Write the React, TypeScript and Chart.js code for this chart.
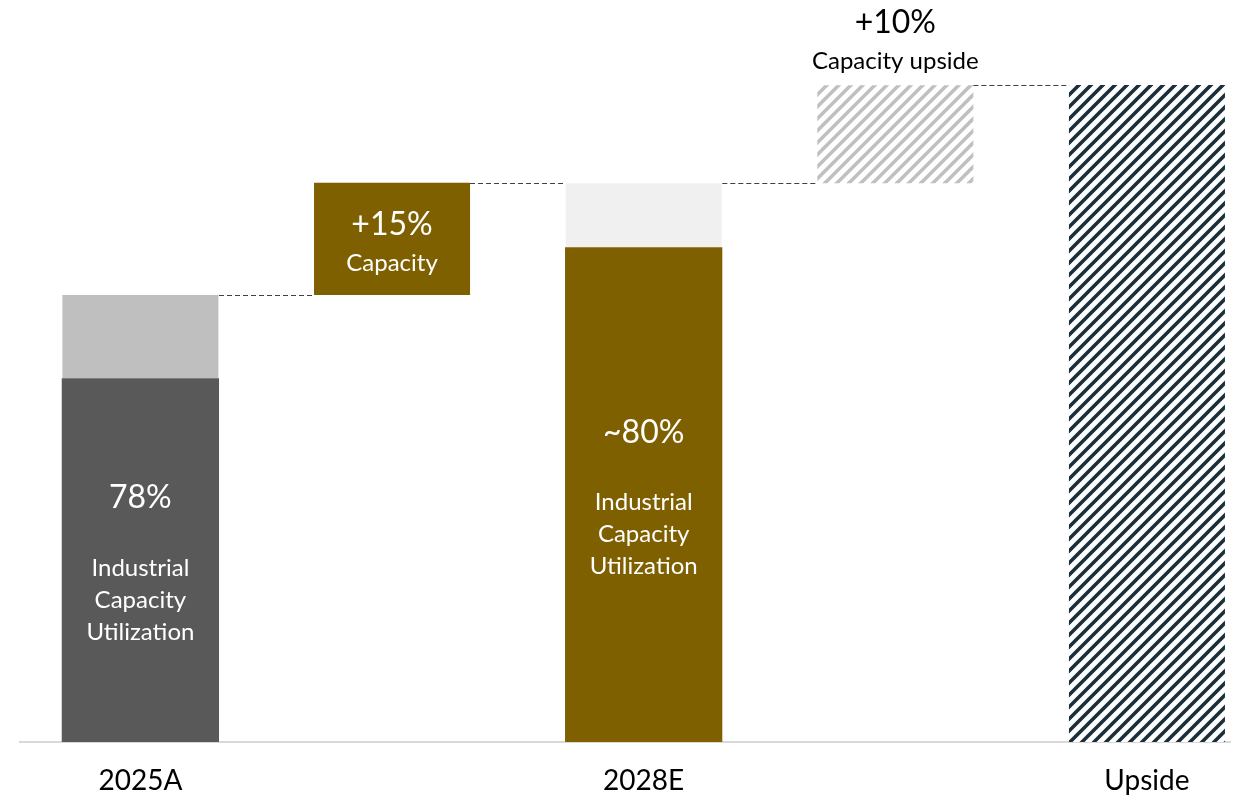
import React, { useEffect, useRef } from 'react';
import { Chart, registerables } from 'chart.js';

Chart.register(...registerables);

// ---- data ----
const CATEGORIES = ['2025A', '', '2028E', '', 'Upside'];
const UTILIZED = [81.4, null, 110.7, null, null];
const SPARE = [18.6, null, 14.3, null, null];
const STEP = [null, 25.1, null, 21.9, null];
const UPSIDE_TOTAL = [null, null, null, null, 147];
const VALUE_LABELS = ['78%', '+15%', '~80%', '+10%', ''];
const CAPTION_LABELS = [
  ['Industrial', 'Capacity', 'Utilization'],
  ['Capacity'],
  ['Industrial', 'Capacity', 'Utilization'],
  ['Capacity upside'],
  [],
];

// ---- style config (not data) ----
const FONT = 'Lato';
const UTIL_COLORS: Record<number, string> = { 0: '#595959', 2: '#7f6000' };
const SPARE_COLORS: Record<number, string> = { 0: '#bfbfbf', 2: '#f0f0f0' };
const LABEL_MODE = ['inside', 'inside', 'inside', 'above', 'none'];

// running totals (capacity level after each column)
const TOTALS: number[] = [];
{
  let running = 0;
  CATEGORIES.forEach((_, i) => {
    if (UTILIZED[i] != null) running = (UTILIZED[i] as number) + (SPARE[i] as number);
    else if (STEP[i] != null) running = running + (STEP[i] as number);
    else if (UPSIDE_TOTAL[i] != null) running = UPSIDE_TOTAL[i] as number;
    TOTALS.push(running);
  });
}

function makeHatch(color: string, bg: string) {
  const s = 12;
  const c = document.createElement('canvas');
  c.width = s;
  c.height = s;
  const g = c.getContext('2d')!;
  g.fillStyle = bg;
  g.fillRect(0, 0, s, s);
  g.strokeStyle = color;
  g.lineWidth = 3.6;
  g.beginPath();
  g.moveTo(-s, s);
  g.lineTo(s, -s);
  g.moveTo(-s, 2 * s);
  g.lineTo(2 * s, -s);
  g.moveTo(0, 2 * s);
  g.lineTo(2 * s, 0);
  g.stroke();
  return g.createPattern(c, 'repeat')!;
}

const annotatePlugin = {
  id: 'annotate',
  afterDatasetsDraw(chart: any) {
    const ctx = chart.ctx as CanvasRenderingContext2D;
    const yScale = chart.scales.y;
    const cats: Record<number, { left: number; right: number; top: number; cx: number; util?: any; step?: any }> = {};
    chart.data.datasets.forEach((ds: any, di: number) => {
      const meta = chart.getDatasetMeta(di);
      meta.data.forEach((el: any, j: number) => {
        const cat = ds.data[j].x;
        const top = Math.min(el.y, el.base);
        const left = el.x - el.width / 2;
        const right = el.x + el.width / 2;
        const c = cats[cat] || (cats[cat] = { left, right, top, cx: el.x });
        c.left = Math.min(c.left, left);
        c.right = Math.max(c.right, right);
        c.top = Math.min(c.top, top);
        if (ds.role === 'util') c.util = el;
        if (ds.role === 'step') c.step = el;
      });
    });

    ctx.save();
    // dashed connectors
    ctx.strokeStyle = '#404040';
    ctx.lineWidth = 1;
    ctx.setLineDash([5, 3]);
    for (let i = 0; i < CATEGORIES.length - 1; i++) {
      const a = cats[i];
      const b = cats[i + 1];
      if (!a || !b) continue;
      const yp = Math.round(yScale.getPixelForValue(TOTALS[i])) + 0.5;
      ctx.beginPath();
      ctx.moveTo(a.right, yp);
      ctx.lineTo(b.left, yp);
      ctx.stroke();
    }
    ctx.setLineDash([]);

    // labels
    ctx.textAlign = 'center';
    ctx.textBaseline = 'middle';
    CATEGORIES.forEach((_, i) => {
      const c = cats[i];
      if (!c) return;
      const mode = LABEL_MODE[i];
      if (mode === 'none') return;
      const el = c.util || c.step;
      if (!el) return;
      const top = Math.min(el.y, el.base);
      const bottom = Math.max(el.y, el.base);
      const mid = (top + bottom) / 2;
      if (mode === 'inside' && c.util) {
        ctx.fillStyle = '#ffffff';
        ctx.font = `32px ${FONT}`;
        ctx.fillText(VALUE_LABELS[i], el.x, mid - 62);
        ctx.font = `24px ${FONT}`;
        CAPTION_LABELS[i].forEach((t, k) => ctx.fillText(t, el.x, mid + 8 + k * 32));
      } else if (mode === 'inside') {
        ctx.fillStyle = '#ffffff';
        ctx.font = `32px ${FONT}`;
        ctx.fillText(VALUE_LABELS[i], el.x, mid - 14);
        ctx.font = `24px ${FONT}`;
        CAPTION_LABELS[i].forEach((t, k) => ctx.fillText(t, el.x, mid + 24 + k * 30));
      } else if (mode === 'above') {
        ctx.fillStyle = '#000000';
        ctx.font = `32px ${FONT}`;
        ctx.fillText(VALUE_LABELS[i], el.x, top - 63);
        ctx.font = `24px ${FONT}`;
        CAPTION_LABELS[i].forEach((t, k) => ctx.fillText(t, el.x, top - 24 + k * 30));
      }
    });
    ctx.restore();
  },
};

export default function App() {
  const canvasRef = useRef<HTMLCanvasElement | null>(null);

  useEffect(() => {
    document.body.style.margin = '0';
    const canvas = canvasRef.current;
    if (!canvas) return;

    const idx = CATEGORIES.map((_, i) => i);
    const utilData = idx.filter((i) => UTILIZED[i] != null).map((i) => ({ x: i, y: [0, UTILIZED[i] as number] }));
    const spareData = idx
      .filter((i) => SPARE[i] != null)
      .map((i) => ({ x: i, y: [UTILIZED[i] as number, (UTILIZED[i] as number) + (SPARE[i] as number)] }));
    const stepData = idx
      .filter((i) => STEP[i] != null)
      .map((i) => ({ x: i, y: [TOTALS[i] - (STEP[i] as number), TOTALS[i]] }));
    const upsideData = idx.filter((i) => UPSIDE_TOTAL[i] != null).map((i) => ({ x: i, y: [0, UPSIDE_TOTAL[i] as number] }));

    const hatchLight = makeHatch('#c0c0c0', '#ffffff');
    const hatchDark = makeHatch('#1b2f3a', '#ffffff');

    const chart = new Chart(canvas, {
      type: 'bar',
      data: {
        datasets: [
          {
            label: 'Utilization',
            role: 'util',
            data: utilData,
            backgroundColor: (c: any) => UTIL_COLORS[c.raw?.x] || '#595959',
            grouped: false,
            barPercentage: 0.625,
            categoryPercentage: 1,
          } as any,
          {
            label: 'Spare capacity',
            role: 'spare',
            data: spareData,
            backgroundColor: (c: any) => SPARE_COLORS[c.raw?.x] || '#bfbfbf',
            grouped: false,
            barPercentage: 0.62,
            categoryPercentage: 1,
          } as any,
          {
            label: 'Capacity step',
            role: 'step',
            data: stepData,
            backgroundColor: (c: any) => (c.raw?.x === 1 ? '#7f6000' : hatchLight),
            grouped: false,
            barPercentage: 0.62,
            categoryPercentage: 1,
          } as any,
          {
            label: 'Upside',
            role: 'upside',
            data: upsideData,
            backgroundColor: hatchDark,
            grouped: false,
            barPercentage: 0.62,
            categoryPercentage: 1,
          } as any,
        ],
      },
      options: {
        responsive: false,
        animation: false,
        layout: { padding: { left: 20, right: 7, top: 0, bottom: 0 } },
        plugins: { legend: { display: false }, tooltip: { enabled: false } },
        scales: {
          x: {
            type: 'linear',
            min: -0.4784,
            max: 4.33,
            offset: false,
            grid: { display: false, drawTicks: false },
            border: { display: true, color: '#d9d9d9', width: 2 },
            afterBuildTicks: (axis: any) => {
              axis.ticks = CATEGORIES.map((_, i) => ({ value: i }));
            },
            afterFit: (axis: any) => {
              axis.height = 54;
            },
            ticks: {
              autoSkip: false,
              maxRotation: 0,
              padding: 22,
              color: '#000000',
              font: { family: FONT, size: 28 },
              callback: (v: any) => CATEGORIES[Math.round(Number(v))] ?? '',
            },
          },
          y: {
            display: false,
            min: 0,
            max: 166,
          },
        },
      } as any,
      plugins: [annotatePlugin],
    });

    return () => chart.destroy();
  }, []);

  return (
    <div style={{ width: 1237, height: 796 }}>
      <canvas ref={canvasRef} width={1237} height={796} />
    </div>
  );
}
